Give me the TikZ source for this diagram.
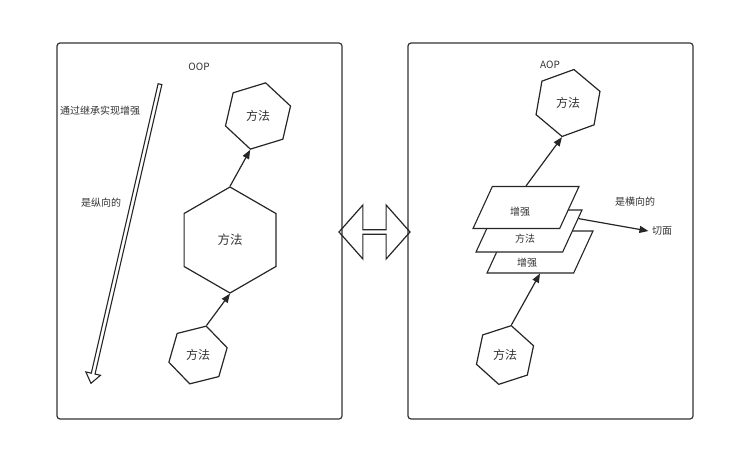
\documentclass[tikz,border=0pt]{standalone}
\usepackage{fontspec}
\setmainfont{Noto Sans CJK SC}
\usetikzlibrary{shapes.geometric,shapes.arrows,arrows.meta}
\begin{document}
\begin{tikzpicture}[x=1pt, y=-1pt,
	every node/.style={text=black!80},
	panel/.style={draw=black!80, line width=1.2pt, rounded corners=3pt},
	hex/.style={draw=black!85, line width=1.2pt, regular polygon, regular polygon sides=6, inner sep=0pt, font=\fontsize{12}{12}\selectfont},
	slab/.style={draw=black!85, line width=1.1pt, fill=white, trapezium, trapezium left angle=74, trapezium right angle=106, trapezium stretches=true, minimum width=106pt, minimum height=42pt, inner sep=2pt, font=\fontsize{10}{10}\selectfont},
	txt/.style={font=\fontsize{10}{10}\selectfont},
	link/.style={draw=black!85, line width=1.2pt, -{Triangle[length=9pt,width=7pt]}}]
\useasboundingbox (0,0) rectangle (749,449);

\draw[panel] (57,43) rectangle (342,419);
\draw[panel] (408,43) rectangle (693,419);

\node[txt] (oop) at (199,67) {OOP};
\node[txt] (n01) at (100,111) {通过继承实现增强};
\node[txt] (n02) at (101,203) {是纵向的};
\node[draw=black!85, line width=1.1pt, single arrow, rotate=-103, minimum height=307pt, minimum width=15pt, single arrow head extend=4.5pt, single arrow tip angle=74, inner sep=1pt] (down) at (125.75,232.5) {};

\node[hex, minimum size=68pt, shape border rotate=17] (h11) at (258,116) {方法};
\node[hex, minimum size=106pt, shape border rotate=30, font=\fontsize{12.5}{12.5}\selectfont] (h12) at (230,240) {方法};
\node[hex, minimum size=60pt, shape border rotate=14] (h13) at (198,355) {方法};

\draw[link] (h13.74) -- (h12.270);
\draw[link] (h12.90) -- (h11.257);

\node[draw=black!85, line width=1.2pt, double arrow, minimum height=71pt, minimum width=54pt, double arrow head extend=18pt, double arrow tip angle=97, inner sep=1pt] (both) at (374.5,232) {};

\node[txt] (aop) at (550,65) {AOP};
\node[hex, minimum size=68pt, shape border rotate=20] (h21) at (568,103) {方法};
\node[hex, minimum size=60pt, shape border rotate=18] (h22) at (505,355) {方法};

\node[slab, label={[txt, xshift=-13pt, yshift=-11pt]center:增强}] (p23) at (540,252) {};
\node[slab, label={[txt, xshift=-4pt, yshift=-8pt]center:方法}] (p22) at (529,231) {};
\node[slab, label={[txt, xshift=-6pt, yshift=-4.5pt]center:增强}] (p21) at (526,207.5) {};

\node[txt] (n03) at (635,202) {是横向的};
\node[txt] (cut) at (662,231) {切面};

\draw[link] (h22.78) -- (p23.south);
\draw[link] (p21.north) -- (h21.260);
\draw[link] (p22.14) -- (cut.west);
\end{tikzpicture}
\end{document}
